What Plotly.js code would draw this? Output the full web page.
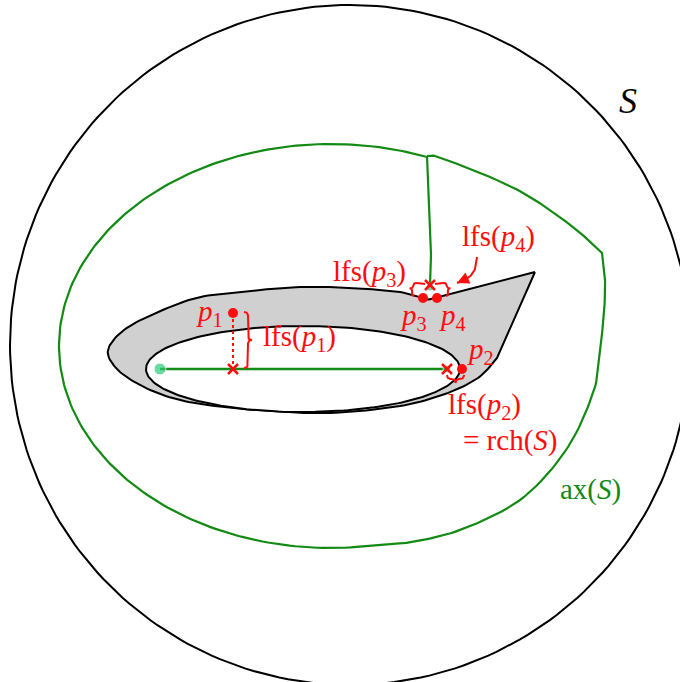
<!DOCTYPE html>
<html>
<head>
<meta charset="utf-8">
<script src="https://cdn.plot.ly/plotly-3.0.1.min.js"></script>
<style>html,body{margin:0;padding:0;background:#fff;}#chart{width:680px;height:682px;}</style>
</head>
<body>
<div id="chart"></div>
<script>
// ---- Geometry data (pixel-like coordinates, y downward) ----
const outerCircleCenter = [350, 345];
const outerCircleRadius = 340;

const holeCenter = [303, 369];
const holeSemiAxes = [157, 43];

const setTip = [535, 272];
const setBoundaryX = [448, 437, 430, 423, 400, 350, 300, 250, 200, 158, 124, 108, 116, 138, 172, 215, 270, 330, 400, 445, 478, 497];
const setBoundaryY = [295, 298, 299.5, 298, 292, 288, 287, 291, 297, 312, 330, 350, 368, 384, 398, 406, 411, 413, 406, 394, 378, 358];

// medial axis: left part follows an elliptic arc, right part is a free curve
const axisArcCenter = [331, 346];
const axisArcRadii = [272, 202];
const axisArcDegrees = [80, 290.7];
const axisRightX = [427, 438, 490, 530, 573, 602];
const axisRightY = [156, 157, 177, 197, 227, 253];
const axisLowerX = [602, 605, 604, 600, 594, 568, 524, 468, 418, 378];
const axisLowerY = [253, 280, 313, 350, 390, 447, 497, 527, 541, 545];
const axisBranchX = [427, 429, 431, 430];
const axisBranchY = [156, 200, 245, 285];
const axisSegmentX = [160, 447];
const axisSegmentY = [369, 369];

const pointNames = ['p1', 'p2', 'p3', 'p4'];
const pointX = [233, 462, 423, 437];
const pointY = [313, 369, 298, 298];
const projX = [233, 447, 430];
const projY = [369, 369, 285];
const axisDotX = [160, 447, 430];
const axisDotY = [369, 369, 287];
const axisDotSize = [12, 8, 8];

// braces: [x0, y0, x1, y1, depth, side]
const braces = [
  [244, 312, 244, 368, 8, -1],
  [447, 375, 464, 375, 8, 1],
  [417, 283, 414, 296, 6, 1],
  [443, 283, 446, 296, 6, -1]
];
const braceLinksX = [[417, 425], [435, 443]];
const braceLinksY = [[283, 284], [284, 283]];

const arrowX = [477, 475, 468, 457];
const arrowY = [257, 269, 278, 283];

const labelTexts = ['<i>S</i>', 'lfs(<i>p</i><sub>4</sub>)', 'lfs(<i>p</i><sub>3</sub>)', '<i>p</i><sub>3</sub>', '<i>p</i><sub>4</sub>',
  '<i>p</i><sub>1</sub>', 'lfs(<i>p</i><sub>1</sub>)', '<i>p</i><sub>2</sub>', 'lfs(<i>p</i><sub>2</sub>)', '= rch(<i>S</i>)', 'ax(<i>S</i>)'];
const labelX = [628, 498, 369, 413, 452, 209, 299, 480, 484, 510, 590];
const labelY = [101, 238, 273, 317, 317, 313, 338, 351, 406, 440, 489];
const labelColors = ['black', 'red', 'red', 'red', 'red', 'red', 'red', 'red', 'red', 'red', 'green'];
const labelSizes = [36, 29, 29, 29, 29, 29, 29, 29, 29, 29, 29];

// ---- helpers ----
function catmull(xs, ys, steps) {
  const n = xs.length, ox = [], oy = [];
  for (let i = 0; i < n - 1; i++) {
    const i0 = Math.max(i - 1, 0), i3 = Math.min(i + 2, n - 1);
    for (let s = 0; s < steps; s++) {
      const t = s / steps, t2 = t * t, t3 = t2 * t;
      const f = (a, b, c, d) => 0.5 * ((2 * b) + (-a + c) * t + (2 * a - 5 * b + 4 * c - d) * t2 + (-a + 3 * b - 3 * c + d) * t3);
      ox.push(f(xs[i0], xs[i], xs[i + 1], xs[i3]));
      oy.push(f(ys[i0], ys[i], ys[i + 1], ys[i3]));
    }
  }
  ox.push(xs[n - 1]); oy.push(ys[n - 1]);
  return [ox, oy];
}
function arcPts(c, r, d0, d1, n) {
  const xs = [], ys = [];
  for (let k = 0; k <= n; k++) {
    const a = (d0 + (d1 - d0) * k / n) * Math.PI / 180;
    xs.push(c[0] + r[0] * Math.cos(a)); ys.push(c[1] + r[1] * Math.sin(a));
  }
  return [xs, ys];
}
function ellipsePts(c, r) { return arcPts(c, r, 0, 360, 240); }
function qb(p0, p1, p2, out) {
  for (let k = 1; k <= 10; k++) {
    const t = k / 10;
    out.push([(1 - t) * (1 - t) * p0[0] + 2 * (1 - t) * t * p1[0] + t * t * p2[0],
              (1 - t) * (1 - t) * p0[1] + 2 * (1 - t) * t * p1[1] + t * t * p2[1]]);
  }
}
function bracePts(b) {
  const [x0, y0, x1, y1, d, side] = b;
  const L = Math.hypot(x1 - x0, y1 - y0);
  const e = [(x1 - x0) / L, (y1 - y0) / L];
  const nrm = [-e[1] * side, e[0] * side];
  const r = Math.min(d / 2, L / 4);
  const loc = [[0, 0]];
  qb([0, 0], [0, d / 2], [r, d / 2], loc);
  loc.push([L / 2 - r, d / 2]);
  qb([L / 2 - r, d / 2], [L / 2, d / 2], [L / 2, d], loc);
  qb([L / 2, d], [L / 2, d / 2], [L / 2 + r, d / 2], loc);
  loc.push([L - r, d / 2]);
  qb([L - r, d / 2], [L, d / 2], [L, 0], loc);
  return [loc.map(p => x0 + p[0] * e[0] + p[1] * nrm[0]), loc.map(p => y0 + p[0] * e[1] + p[1] * nrm[1])];
}

const GREEN = '#138a13';
const RED = '#ff0d0d';
const traces = [];
const line = (xs, ys, color, width, extra) => Object.assign({type: 'scatter', mode: 'lines', x: xs, y: ys, line: {color: color, width: width}, hoverinfo: 'skip'}, extra || {});

// outer circle
const circ = ellipsePts(outerCircleCenter, [outerCircleRadius, outerCircleRadius]);
traces.push(line(circ[0], circ[1], 'black', 2));

// medial axis outer loop
const ra = catmull(axisRightX, axisRightY, 12);
const lo = catmull(axisLowerX, axisLowerY, 12);
const ea = arcPts(axisArcCenter, axisArcRadii, axisArcDegrees[0], axisArcDegrees[1], 180);
traces.push(line(ra[0].concat(lo[0], ea[0]), ra[1].concat(lo[1], ea[1]), GREEN, 2.2));
const br = catmull(axisBranchX, axisBranchY, 10);
traces.push(line(br[0], br[1], GREEN, 2.2));

// the set S (grey)
const sb = catmull(setBoundaryX, setBoundaryY, 12);
traces.push(line([setTip[0]].concat(sb[0], [setTip[0]]), [setTip[1]].concat(sb[1], [setTip[1]]), 'black', 2,
  {fill: 'toself', fillcolor: '#d0d0d0'}));
// hole
const hole = ellipsePts(holeCenter, holeSemiAxes);
traces.push(line(hole[0], hole[1], 'black', 2, {fill: 'toself', fillcolor: '#ffffff'}));

// inner axis segment
traces.push(line(axisSegmentX, axisSegmentY, GREEN, 2.5));

// dotted projection line p1
traces.push(line([pointX[0], projX[0]], [pointY[0], projY[0]], RED, 2, {line: {color: RED, width: 2, dash: 'dot'}}));

// braces
braces.forEach(b => { const p = bracePts(b); traces.push(line(p[0], p[1], RED, 2)); });
braceLinksX.forEach((xs, i) => traces.push(line(xs, braceLinksY[i], RED, 2)));

// arrow
const ar = catmull(arrowX, arrowY, 10);
traces.push(line(ar[0], ar[1], RED, 2));

// axis dots (light green)
traces.push({type: 'scatter', mode: 'markers', x: axisDotX, y: axisDotY, marker: {color: '#2ecc7a', size: axisDotSize}, hoverinfo: 'skip'});
// projections (red x)
traces.push({type: 'scatter', mode: 'markers', x: projX, y: projY, marker: {symbol: 'x-thin', size: 10, line: {color: RED, width: 2.5}}, hoverinfo: 'skip'});
// points
traces.push({type: 'scatter', mode: 'markers', x: pointX, y: pointY, text: pointNames, marker: {color: RED, size: 10}, hoverinfo: 'skip'});

const annotations = labelTexts.map((t, i) => ({
  x: labelX[i], y: labelY[i], xref: 'x', yref: 'y', text: t, showarrow: false,
  xanchor: 'center', yanchor: 'middle',
  font: {family: 'Liberation Serif, serif', size: labelSizes[i], color: labelColors[i] === 'red' ? RED : (labelColors[i] === 'green' ? GREEN : 'black')}
}));
// arrowhead for lfs(p4)
annotations.push({x: arrowX[3], y: arrowY[3], ax: arrowX[2], ay: arrowY[2], xref: 'x', yref: 'y', axref: 'x', ayref: 'y',
  showarrow: true, arrowhead: 2, arrowsize: 1.2, arrowwidth: 2, arrowcolor: RED, text: ''});

const layout = {
  width: 680, height: 682,
  margin: {l: 0, r: 0, t: 0, b: 0},
  paper_bgcolor: 'white', plot_bgcolor: 'white',
  showlegend: false, hovermode: false,
  xaxis: {range: [0, 680], visible: false, fixedrange: true},
  yaxis: {range: [682, 0], visible: false, fixedrange: true},
  annotations: annotations
};
Plotly.newPlot('chart', traces, layout, {staticPlot: true, displayModeBar: false});
</script>
</body>
</html>
